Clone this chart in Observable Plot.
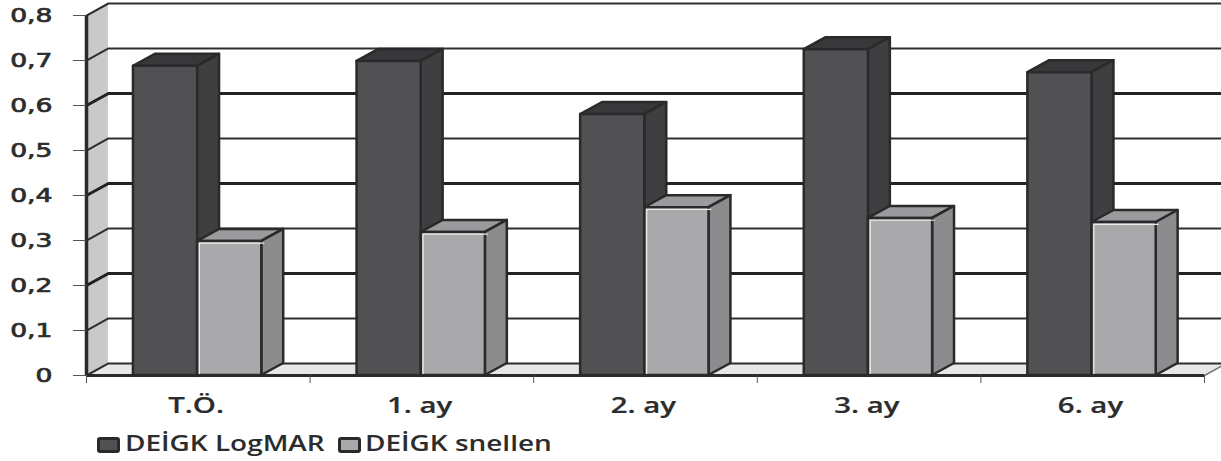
<!DOCTYPE html>
<html>
<head>
<meta charset="utf-8">
<script src="https://cdn.jsdelivr.net/npm/d3@7"></script>
<script src="https://cdn.jsdelivr.net/npm/@observablehq/plot@0.6"></script>
<style>
  html, body { margin: 0; background: #fff; }
  #legend {
    position: relative; height: 36px;
    font: 600 21px "Open Sans", sans-serif; color: #2c2c2c;
  }
  #legend i {
    position: absolute; top: 12px; width: 17px; height: 10px;
    border: 3px solid #2a2a2c; border-radius: 3px;
  }
  #legend b {
    position: absolute; top: 4px; font-weight: 600; white-space: nowrap;
    transform-origin: left center; transform: scaleX(1.33);
  }
</style>
</head>
<body>
<div id="chart"></div>
<div id="legend"></div>
<script>
// Visits along the follow-up period
const categories = ["T.Ö.", "1. ay", "2. ay", "3. ay", "6. ay"];
// DEİGK scores at each visit
const logmar = [0.687, 0.698, 0.58, 0.724, 0.673];
const snellen = [0.298, 0.318, 0.373, 0.349, 0.34];
const yTicks = [0, 0.1, 0.2, 0.3, 0.4, 0.5, 0.6, 0.7, 0.8];
const heavyGrid = [0.2, 0.4, 0.6];

// Oblique projection of the pseudo-3D box, in scale units
const depthX = 0.098;
const depthY = 0.0267;
const barStart = 0.21;
const barWidth = 0.287;
const xMax = 5.076;

const seriesStyles = [
  {name: "DEİGK LogMAR", values: logmar, offset: 0, front: "#515153", side: "#3f3f41", top: "#38383a", line: "#2a2a2c", swatchLeft: 97, textLeft: 125},
  {name: "DEİGK snellen", values: snellen, offset: 1, front: "#a9a9ab", side: "#8c8c8e", top: "#9b9b9d", line: "#2a2a2c", swatchLeft: 338, textLeft: 365, shine: "#ededed"}
];

// Each bar becomes a front rectangle plus two parallelograms
function barsOf(s) {
  return s.values.map((v, i) => {
    const x1 = i + barStart + s.offset * barWidth;
    return {key: i, v, x1, x2: x1 + barWidth};
  });
}
function sideFace(bars) {
  return bars.flatMap(b => [
    {key: b.key, x: b.x2, y1: 0, y2: b.v},
    {key: b.key, x: b.x2 + depthX, y1: depthY, y2: b.v + depthY}
  ]);
}
function topFace(bars) {
  return bars.flatMap(b => [
    {key: b.key, y: b.v, x1: b.x1, x2: b.x2},
    {key: b.key, y: b.v + depthY, x1: b.x1 + depthX, x2: b.x2 + depthX}
  ]);
}
function barMarks(s) {
  const bars = barsOf(s);
  const outline = {stroke: s.line, strokeWidth: 2.5, strokeLinejoin: "round"};
  const marks = [
    Plot.areaX(topFace(bars), {y: "y", x1: "x1", x2: "x2", z: "key", fill: s.top, ...outline}),
    Plot.areaY(sideFace(bars), {x: "x", y1: "y1", y2: "y2", z: "key", fill: s.side, ...outline}),
    Plot.rect(bars, {x1: "x1", x2: "x2", y1: 0, y2: "v", fill: s.front, ...outline})
  ];
  if (s.shine) {
    // Thin highlight along the left and top edges of the front face
    const edge = bars.flatMap(b => [
      {key: b.key, x: b.x1, y: 0},
      {key: b.key, x: b.x1, y: b.v},
      {key: b.key, x: b.x2, y: b.v}
    ]);
    marks.push(Plot.line(edge, {x: "x", y: "y", z: "key", stroke: s.shine, strokeWidth: 1.2, dx: 1.8, dy: 1.8}));
  }
  return marks;
}

const gridPath = v => [
  {t: v, x: 0, y: v},
  {t: v, x: depthX, y: v + depthY},
  {t: v, x: xMax, y: v + depthY}
];
const comma = d => d === 0 ? "0" : d.toFixed(1).replace(".", ",");

const chart = Plot.plot({
  width: 1221,
  height: 425,
  marginLeft: 86,
  marginRight: 0,
  marginTop: 3,
  marginBottom: 50,
  style: {background: "#fff", overflow: "visible"},
  x: {domain: [0, xMax]},
  y: {domain: [0, 0.8 + depthY]},
  marks: [
    // Side wall and floor of the box
    Plot.areaY([{x: 0, y1: 0, y2: 0.8}, {x: depthX, y1: depthY, y2: 0.8 + depthY}],
      {x: "x", y1: "y1", y2: "y2", fill: "#c9c9cb"}),
    Plot.areaX([{y: 0, x1: 0, x2: 5}, {y: depthY, x1: depthX, x2: 5 + depthX}],
      {y: "y", x1: "x1", x2: "x2", fill: "#e7e7e7"}),

    // Gridlines fold from the wall onto the back plane
    Plot.line(yTicks.flatMap(gridPath), {x: "x", y: "y", z: "t", stroke: "#2e2e2e", strokeWidth: 2}),
    Plot.line(heavyGrid.flatMap(gridPath), {x: "x", y: "y", z: "t", stroke: "#222", strokeWidth: 3}),

    Plot.line([{x: 5, y: 0}, {x: 5 + depthX, y: depthY}], {x: "x", y: "y", stroke: "#777", strokeWidth: 1.5}),

    ...barMarks(seriesStyles[0]),
    ...barMarks(seriesStyles[1]),

    // Front edges of the box
    Plot.ruleX([0], {y1: 0, y2: 0.8, stroke: "#2a2a2a", strokeWidth: 3.5}),
    Plot.ruleY([0], {x1: 0, x2: 5, stroke: "#2a2a2a", strokeWidth: 3}),

    Plot.axisY({ticks: yTicks, tickSize: 13, tickPadding: 21, tickFormat: comma, stroke: "#555", label: null}),
    Plot.axisX({ticks: d3.range(6), tickSize: 8, stroke: "#555", tickFormat: () => "", label: null}),
    Plot.axisX({
      ticks: categories.map((_, i) => i + 0.49), tickSize: 0, tickPadding: 23,
      tickFormat: d => categories[Math.floor(d)], label: null
    })
  ]
});
document.getElementById("chart").append(chart);

// The axis lettering is set wide: horizontally stretched glyphs with a slight embolden
function widen(selector, size, stretch, family, weight, embolden) {
  chart.querySelectorAll(selector).forEach(t => {
    t.setAttribute("font-size", size);
    t.setAttribute("font-family", family);
    t.setAttribute("font-weight", weight);
    t.setAttribute("fill", "#2c2c2c");
    t.setAttribute("stroke", "#2c2c2c");
    t.setAttribute("stroke-width", embolden);
    t.setAttribute("transform", (t.getAttribute("transform") || "") + ` scale(${stretch},1)`);
  });
}
widen('[aria-label="y-axis tick label"] text', 19, 1.4, "DejaVu Sans", 400, 0.7);
widen('[aria-label="x-axis tick label"] text', 21, 1.4, "Open Sans", 600, 0.2);

// Legend sits under the plot
const legend = document.getElementById("legend");
for (const s of seriesStyles) {
  const swatch = document.createElement("i");
  swatch.style.left = s.swatchLeft + "px";
  swatch.style.background = s.front;
  const text = document.createElement("b");
  text.style.left = s.textLeft + "px";
  text.textContent = s.name;
  legend.append(swatch, text);
}
</script>
</body>
</html>
